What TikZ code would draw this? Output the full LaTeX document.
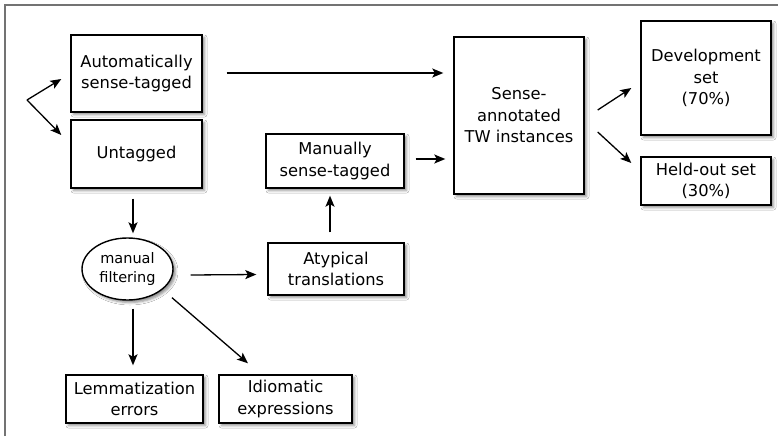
\documentclass[tikz,border=0pt]{standalone}
\usepackage{fontspec}
\setmainfont{DejaVu Sans}
\usetikzlibrary{shadows,shadows.blur,calc,arrows.meta,shapes.geometric}
\begin{document}
\begin{tikzpicture}[x=1pt,y=-1pt,
  shd/.style={blur shadow={shadow xshift=2.5pt, shadow yshift=-2.5pt, shadow blur radius=2.5pt, shadow opacity=45}},
  box/.style={draw=black, line width=1.4pt, fill=white, align=center, inner sep=0pt,
    font=\fontsize{16.3}{21.5}\selectfont, shd},
  oval/.style={ellipse, draw=black, line width=1.4pt, fill=white, align=center, inner sep=0pt,
    font=\fontsize{14.5}{19}\selectfont, shd},
  arr/.style={line width=1.3pt, -{Stealth[length=11pt,width=9pt,inset=2.5pt]}},
  frame/.style={draw=black!55, line width=1.5pt}]
\useasboundingbox (0,0) rectangle (778,436);
\fill[white] (0,0) rectangle (778,436);
\draw[frame] (5,436) -- (5,5) -- (778,5);

\node[box, minimum width=131pt, minimum height=77pt] (auto) at (136.5,73.5) {Automatically\\sense-tagged};
\node[box, minimum width=131pt, minimum height=68pt] (untag) at (136.5,154) {Untagged};
\node[box, minimum width=138pt, minimum height=54pt] (manual) at (335,161) {Manually\\sense-tagged};
\node[box, minimum width=130pt, minimum height=157pt] (sense) at (519,115.5) {Sense-\\annotated\\TW instances};
\node[box, minimum width=130pt, minimum height=114pt] (dev) at (706,78) {Development\\set\\(70\%)};
\node[box, minimum width=130pt, minimum height=48pt] (held) at (706,181) {Held-out set\\(30\%)};
\node[oval, minimum width=91pt, minimum height=62pt] (filt) at (127.5,269) {manual\\filtering};
\node[box, minimum width=136pt, minimum height=52pt] (atyp) at (336,269) {Atypical\\translations};
\node[box, minimum width=137pt, minimum height=48pt] (lemma) at (134.5,399) {Lemmatization\\errors};
\node[box, minimum width=133pt, minimum height=48pt] (idiom) at (285.5,399) {Idiomatic\\expressions};

\coordinate (src) at (27,100);
\draw[arr] (src) -- ($(auto.west)+(-9,5.5)$);
\draw[arr] (src) -- ($(untag.west)+(-9,-19)$);
\draw[arr] ($(auto.east)+(24,-0.5)$) -- ($(auto.east -| sense.west)+(-10,-0.5)$);
\draw[arr] ($(manual.east)+(11,-2)$) -- ($(manual.east -| sense.west)+(-8,-2)$);
\draw[arr] ($(sense.east)+(13,-5.5)$) -- ($(dev.west)+(-9,10)$);
\draw[arr] ($(sense.east)+(13,16.5)$) -- ($(held.west)+(-9,-18)$);
\draw[arr] ($(untag.south)+(-3.5,10)$) -- ($(filt.north)+(5.5,-4)$);
\draw[arr] ($(filt.east)+(17,6)$) -- ($(atyp.west)+(-11,5.5)$);
\draw[arr] ($(atyp.north)+(-6,-10)$) -- ($(manual.south)+(-5,7)$);
\draw[arr] ($(filt.south)+(5.5,8)$) -- ($(lemma.north)+(-1.5,-9)$);
\draw[arr] ($(filt.south)+(44.5,-3)$) -- ($(idiom.north)+(-37.5,-11)$);
\end{tikzpicture}
\end{document}
